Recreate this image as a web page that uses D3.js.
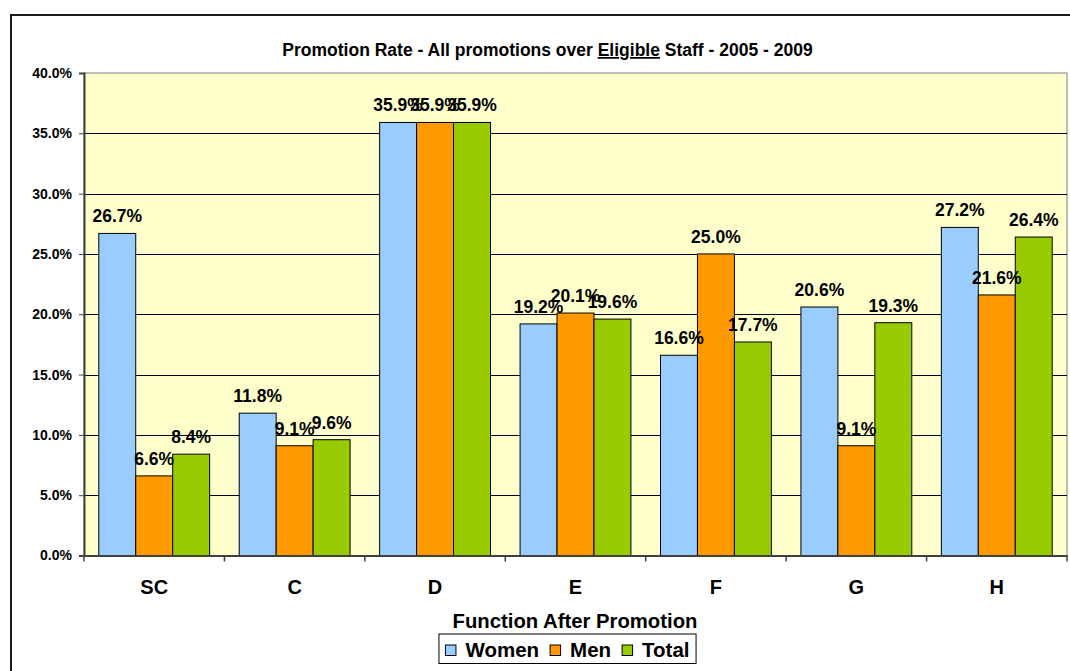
<!DOCTYPE html>
<html>
<head>
<meta charset="utf-8">
<script src="https://cdn.jsdelivr.net/npm/d3@7/dist/d3.min.js"></script>
<style>
  html, body { margin: 0; padding: 0; background: #fff; }
  svg { display: block; font-family: "Liberation Sans", Arial, sans-serif; font-weight: bold; }
</style>
</head>
<body>
<svg id="chart" width="1070" height="671"></svg>
<script>
const categories = ["SC", "C", "D", "E", "F", "G", "H"];
const seriesNames = ["Women", "Men", "Total"];
const women = [26.7, 11.8, 35.9, 19.2, 16.6, 20.6, 27.2];
const men   = [6.6, 9.1, 35.9, 20.1, 25.0, 9.1, 21.6];
const total = [8.4, 9.6, 35.9, 19.6, 17.7, 19.3, 26.4];
const yTicks = [0, 5, 10, 15, 20, 25, 30, 35, 40];
const colors = ["#99CCFF", "#FF9900", "#99CC00"];

(function () {
const seriesValues = [women, men, total];
const svg = d3.select("#chart");

// outer frame
svg.append("rect").attr("x", 11).attr("y", 15).attr("width", 1100).attr("height", 700)
  .attr("fill", "#fff").attr("stroke", "#1a1a1a").attr("stroke-width", 2);

const pLeft = 84, pRight = 1067, pTop = 73, pBottom = 555.5;

const x0 = d3.scaleBand().domain(categories).range([pLeft, pRight]).padding(0);
const x1 = d3.scaleBand().domain(seriesNames).range([0, x0.bandwidth()]).paddingInner(0).paddingOuter(0.4);
const y = d3.scaleLinear().domain([0, 40]).range([pBottom, pTop]);

// plot background
svg.append("rect").attr("x", pLeft).attr("y", pTop).attr("width", pRight - pLeft).attr("height", pBottom - pTop)
  .attr("fill", "#FFFFCC").attr("stroke", "#808080").attr("stroke-width", 1);

// gridlines
svg.append("g").selectAll("line").data(yTicks.filter(t => t > 0 && t < 40)).join("line")
  .attr("x1", pLeft).attr("x2", pRight)
  .attr("y1", d => Math.round(y(d)) + 0.5).attr("y2", d => Math.round(y(d)) + 0.5)
  .attr("stroke", "#000").attr("stroke-width", 1);

// Y axis
const yAxis = d3.axisLeft(y).tickValues(yTicks).tickSize(5).tickPadding(7)
  .tickFormat(d => d3.format(".1f")(d) + "%");
const gy = svg.append("g").attr("transform", `translate(${pLeft},0)`).call(yAxis);
gy.select(".domain").attr("stroke", "#404040").attr("stroke-width", 2);
gy.selectAll(".tick line").attr("stroke", "#404040");
gy.selectAll(".tick text").attr("font-size", 14).attr("font-weight", "bold")
  .attr("font-family", "Liberation Sans, Arial, sans-serif").attr("fill", "#000");

// bars
const groups = svg.append("g").selectAll("g").data(categories).join("g")
  .attr("transform", d => `translate(${x0(d)},0)`);
groups.selectAll("rect").data((c, i) => seriesNames.map((s, j) => ({ s, v: seriesValues[j][i], j })))
  .join("rect")
  .attr("x", d => x1(d.s)).attr("width", x1.bandwidth())
  .attr("y", d => y(d.v)).attr("height", d => y(0) - y(d.v))
  .attr("fill", d => colors[d.j]).attr("stroke", "#000").attr("stroke-width", 1);

// X axis
const xAxis = d3.axisBottom(x0).tickSize(0).tickPadding(0);
const gx = svg.append("g").attr("transform", `translate(0,${pBottom})`).call(xAxis);
gx.select(".domain").attr("stroke", "#404040").attr("stroke-width", 2);
gx.selectAll(".tick text").attr("font-size", 20).attr("font-weight", "bold")
  .attr("font-family", "Liberation Sans, Arial, sans-serif").attr("fill", "#000")
  .attr("dy", 0).attr("y", 38);
// boundary tick marks
const bounds = categories.map(c => x0(c)).concat([pRight]);
svg.append("g").selectAll("line").data(bounds).join("line")
  .attr("x1", d => d).attr("x2", d => d).attr("y1", pBottom).attr("y2", pBottom + 6)
  .attr("stroke", "#404040").attr("stroke-width", 1.5);

// data labels
groups.selectAll("text.lbl").data((c, i) => seriesNames.map((s, j) => ({ s, v: seriesValues[j][i], j })))
  .join("text").attr("class", "lbl")
  .attr("x", d => x1(d.s) + x1.bandwidth() / 2).attr("y", d => y(d.v) - 11)
  .attr("text-anchor", "middle").attr("font-size", 17.5).attr("fill", "#000")
  .text(d => d3.format(".1f")(d.v) + "%");

// title
const title = svg.append("text").attr("x", 547.5).attr("y", 56).attr("text-anchor", "middle")
  .attr("font-size", 17.5).attr("fill", "#000");
title.append("tspan").text("Promotion Rate - All promotions over ");
title.append("tspan").attr("text-decoration", "underline").text("Eligible");
title.append("tspan").text(" Staff - 2005 - 2009");

// x axis title
svg.append("text").attr("x", 575).attr("y", 628).attr("text-anchor", "middle")
  .attr("font-size", 20.3).attr("fill", "#000").text("Function After Promotion");

// legend
const lg = svg.append("g");
const box = lg.append("rect").attr("y", 634).attr("height", 29.5)
  .attr("fill", "#fff").attr("stroke", "#000").attr("stroke-width", 1);
let cx = 0;
const items = [];
seriesNames.forEach((s, j) => {
  const g = lg.append("g");
  g.append("rect").attr("x", cx).attr("y", 645).attr("width", 10.5).attr("height", 10.5)
    .attr("fill", colors[j]).attr("stroke", "#000").attr("stroke-width", 1);
  const t = g.append("text").attr("x", cx + 20).attr("y", 657).attr("font-size", 20.5)
    .attr("fill", "#000").text(s);
  const w = t.node().getComputedTextLength();
  cx += 20 + w + 11;
  items.push(g);
});
const contentW = cx - 11;
const boxW = contentW + 13;
const boxX = 567.5 - boxW / 2;
box.attr("x", boxX).attr("width", boxW);
items.forEach(g => g.attr("transform", `translate(${boxX + 6.5},0)`));
})();
</script>
</body>
</html>
